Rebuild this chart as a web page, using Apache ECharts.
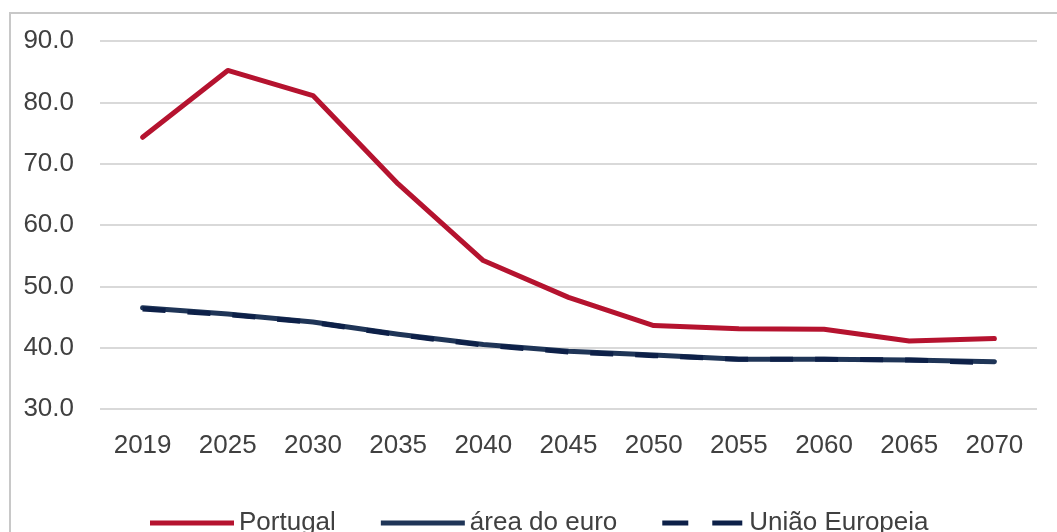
<!DOCTYPE html>
<html>
<head>
<meta charset="utf-8">
<script src="https://cdn.jsdelivr.net/npm/echarts@6/dist/echarts.min.js"></script>
<style>
html,body{margin:0;padding:0;background:#fff;}
#c{width:1057px;height:532px;}
</style>
</head>
<body>
<div id="c"></div>
<script>
var categories = ['2019','2025','2030','2035','2040','2045','2050','2055','2060','2065','2070'];
var portugal = [74.3, 85.2, 81.1, 66.7, 54.2, 48.2, 43.6, 43.1, 43.0, 41.1, 41.5];
var areaEuro = [46.5, 45.5, 44.2, 42.2, 40.5, 39.4, 38.8, 38.1, 38.1, 38.0, 37.7];
var uniaoEuropeia = [46.3, 45.4, 44.1, 42.1, 40.4, 39.3, 38.7, 38.1, 38.1, 38.0, 37.5];
var seriesNames = ['Portugal', 'área do euro', 'União Europeia'];
var colors = ['#b5132f', '#1f3557', '#0d2048'];

var font = 'Liberation Sans';
var chart = echarts.init(document.getElementById('c'));
chart.setOption({
  animation: false,
  backgroundColor: '#ffffff',
  graphic: [{
    type: 'rect', silent: true,
    shape: { x: 10, y: 13, width: 1080, height: 560 },
    style: { fill: 'none', stroke: '#c8c8c8', lineWidth: 2 }
  }],
  grid: { left: 100, right: 20, top: 41, bottom: 123, containLabel: false },
  legend: {
    data: [
      { name: seriesNames[0], icon: 'rect', itemStyle: { color: colors[0] } },
      { name: seriesNames[1], icon: 'rect', itemStyle: { color: colors[1] } },
      { name: seriesNames[2], icon: 'path://M0,0h26v5h-26z M50,0h30v5h-30z', itemStyle: { color: colors[2] } }
    ],
    left: 145,
    top: 505,
    itemWidth: 84,
    itemHeight: 5,
    itemGap: 45,
    textStyle: { fontFamily: font, fontSize: 26, color: '#404040' }
  },
  xAxis: {
    type: 'category',
    data: categories,
    boundaryGap: true,
    axisLine: { show: false },
    axisTick: { show: false },
    axisLabel: { fontFamily: font, fontSize: 26, color: '#404040', margin: 24 }
  },
  yAxis: {
    type: 'value',
    min: 30, max: 90, interval: 10,
    axisLine: { show: false },
    axisTick: { show: false },
    splitLine: { lineStyle: { color: '#d9d9d9', width: 2 } },
    axisLabel: {
      fontFamily: font, fontSize: 26, color: '#404040', margin: 26,
      formatter: function (v) { return v.toFixed(1); }
    }
  },
  series: [
    {
      name: seriesNames[0], type: 'line', data: portugal,
      symbol: 'none', lineStyle: { color: colors[0], width: 5, cap: 'round', join: 'round' },
      itemStyle: { color: colors[0] }, z: 3
    },
    {
      name: seriesNames[1], type: 'line', data: areaEuro,
      symbol: 'none', lineStyle: { color: colors[1], width: 5, cap: 'round', join: 'round' },
      itemStyle: { color: colors[1] }, z: 2
    },
    {
      name: seriesNames[2], type: 'line', data: uniaoEuropeia,
      symbol: 'none', lineStyle: { color: colors[2], width: 5, type: [23, 22], join: 'round' },
      itemStyle: { color: colors[2] }, z: 4
    }
  ]
});
</script>
</body>
</html>
